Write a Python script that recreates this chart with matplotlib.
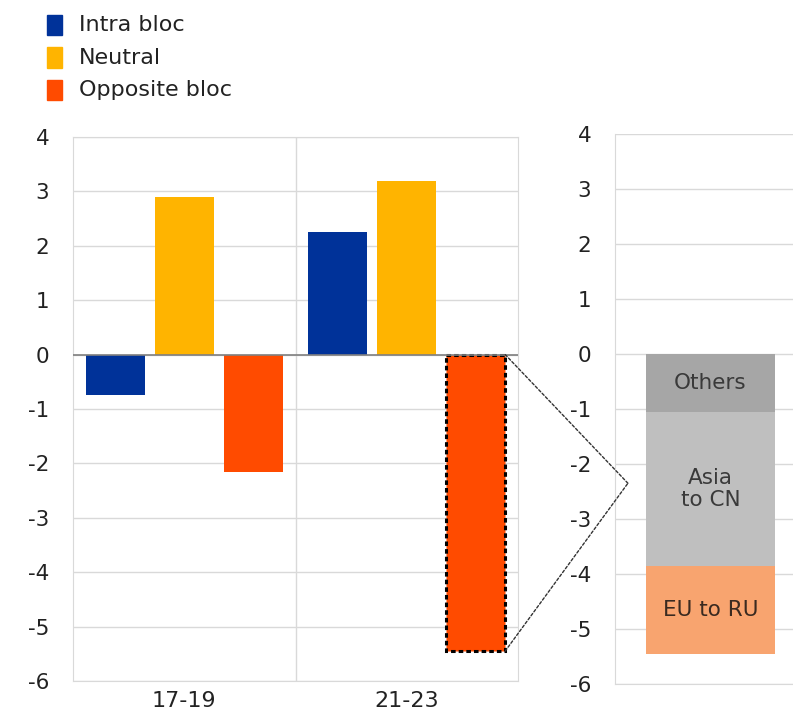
import matplotlib

matplotlib.use("Agg")
import matplotlib.pyplot as plt
import matplotlib.transforms as mtransforms
import numpy as np
from matplotlib.patches import ConnectionPatch, Rectangle

plt.rcParams["font.family"] = ["DejaVu Sans"]
plt.rcParams["axes.unicode_minus"] = False

# Data
periods = ["17-19", "21-23"]
intra_bloc = [-0.75, 2.25]
neutral = [2.9, 3.2]
opposite_bloc = [-2.15, -5.45]

breakdown_labels = ["Others", "Asia\nto CN", "EU to RU"]
breakdown_values = [-1.05, -2.8, -1.6]

y_ticks = list(range(-6, 5))
legend_labels = ["Intra bloc", "Neutral", "Opposite bloc"]

# Styling
BLUE = "#003299"
YELLOW = "#FFB400"
RED = "#FF4B00"
BREAKDOWN_COLORS = ["#a6a6a6", "#bfbfbf", "#f8a46f"]
BREAKDOWN_TEXT = ["#3a3a3a", "#3a3a3a", "#3a2a20"]
GRID = "#d9d9d9"
TEXT = "#222222"
TICK_FS = 15.5
W, H = 793, 720

fig = plt.figure(figsize=(W / 100, H / 100), dpi=100)
ax = fig.add_axes([73 / W, 1 - 681 / H, 445 / W, 544 / H])
ax2 = fig.add_axes([615 / W, 1 - 684 / H, 205 / W, 550 / H])

# --- left panel: bloc contributions ---
x = np.arange(len(periods))
offset, width = 0.31, 0.265
ax.bar(x - offset, intra_bloc, width, color=BLUE, zorder=3)
ax.bar(x, neutral, width, color=YELLOW, zorder=3)
red_bars = ax.bar(x + offset, opposite_bloc, width, color=RED, zorder=3)
# highlight the bar broken down on the right
red_bars[-1].set_edgecolor("black")
red_bars[-1].set_linestyle((0, (1.5, 1)))
red_bars[-1].set_linewidth(2.2)

ax.set_xlim(-0.5, len(periods) - 0.5)
ax.set_ylim(-6, 4)
ax.set_yticks(y_ticks)
ax.set_xticks(x)
ax.set_xticklabels(periods, fontsize=16)
ax.axhline(0, color="#808080", lw=1.2, zorder=4)
for b in np.arange(0.5, len(periods) - 0.5):
    ax.axvline(b, color=GRID, lw=1, zorder=1)
ax.grid(axis="y", color=GRID, lw=1, zorder=0)
ax.tick_params(axis="y", length=0, pad=17, labelsize=TICK_FS, labelcolor=TEXT)
ax.tick_params(axis="x", length=0, pad=7, labelcolor=TEXT)
for s in ax.spines.values():
    s.set_color(GRID)

# --- right panel: breakdown of opposite-bloc change ---
bottom = 0.0
for lab, val, col, tcol in zip(breakdown_labels, breakdown_values, BREAKDOWN_COLORS, BREAKDOWN_TEXT):
    ax2.bar(0.466, val, 0.629, bottom=bottom, color=col, zorder=3)
    ax2.text(0.466, bottom + val / 2, lab, ha="center", va="center", fontsize=15.5,
             color=tcol, zorder=4, linespacing=1.15)
    bottom += val

ax2.set_xlim(0, 1)
ax2.set_ylim(-6, 4)
ax2.set_yticks(y_ticks)
ax2.set_xticks([])
ax2.grid(axis="y", color=GRID, lw=1, zorder=0)
ax2.tick_params(axis="y", length=0, pad=17, labelsize=TICK_FS, labelcolor=TEXT)
for side in ["left", "bottom"]:
    ax2.spines[side].set_color(GRID)
for side in ["top", "right"]:
    ax2.spines[side].set_visible(False)

# dotted "zoom" connectors from the 21-23 opposite bar to the breakdown
apex = mtransforms.blended_transform_factory(ax2.transAxes, ax2.transData)
bar_right = x[-1] + offset + width / 2
for yv in [0, opposite_bloc[-1]]:
    con = ConnectionPatch(xyA=(bar_right, yv), coordsA=ax.transData,
                          xyB=(0.063, -2.35), coordsB=apex,
                          color="#333333", lw=1, linestyle=(0, (2, 1.5)), zorder=5)
    fig.add_artist(con)

# legend drawn by hand to match the stacked square layout
for i, (lab, col) in enumerate(zip(legend_labels, [BLUE, YELLOW, RED])):
    yc = 25 + 32.5 * i
    fig.add_artist(Rectangle((47 / W, 1 - (yc + 10) / H), 15 / W, 20 / H,
                             transform=fig.transFigure, color=col))
    fig.text(79 / W, 1 - yc / H, lab, ha="left", va="center", fontsize=16, color=TEXT)

fig.savefig("out.png", dpi=100)
